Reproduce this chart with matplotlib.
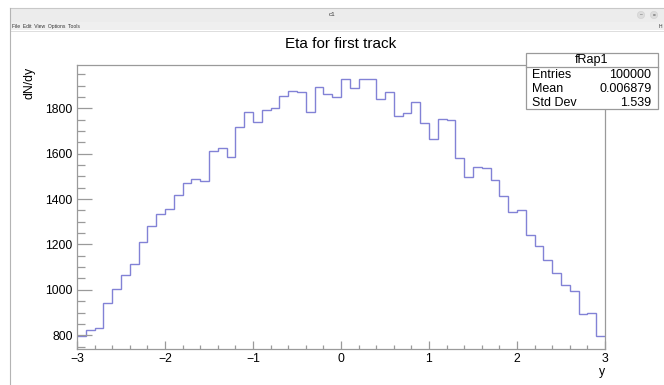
import numpy as np
import matplotlib
matplotlib.use('Agg')
import matplotlib.pyplot as plt
from matplotlib.ticker import MultipleLocator
from matplotlib.patches import Rectangle, Circle

plt.rcParams['font.family'] = ['Liberation Sans', 'DejaVu Sans']

# histogram fRap1: 60 bins in [-3, 3]
x_low, x_high, n_bins = -3.0, 3.0, 60
counts = [797, 822, 831, 942, 1003, 1064, 1113, 1210, 1280, 1332,
          1355, 1417, 1471, 1488, 1480, 1610, 1624, 1587, 1716, 1782,
          1738, 1791, 1800, 1853, 1875, 1870, 1782, 1892, 1862, 1848,
          1928, 1888, 1928, 1928, 1840, 1870, 1766, 1781, 1826, 1734,
          1663, 1754, 1747, 1582, 1499, 1543, 1536, 1484, 1412, 1342,
          1351, 1240, 1192, 1130, 1076, 1020, 994, 892, 898, 796]
title = 'Eta for first track'
x_title = 'y'
y_title = 'dN/dy'
stat_name = 'fRap1'
stat_labels = ['Entries', 'Mean', 'Std Dev']
stat_values = ['100000', '0.006879', '1.539']
y_range = (738, 1989)

W, H = 664, 385
fig = plt.figure(figsize=(W / 100, H / 100), dpi=100)
fig.patch.set_facecolor('white')

def fx(px):
  return px / W

def fy(py):
  return 1 - py / H

# main frame
ax = fig.add_axes([fx(77), fy(349.3), fx(605) - fx(77), fy(65.3) - fy(349.3)])
edges = np.linspace(x_low, x_high, n_bins + 1)
ax.stairs(counts, edges, color='#8282d6', lw=1.0, baseline=None)
ax.set_xlim(x_low, x_high)
ax.set_ylim(*y_range)

frame_col = '#9a9a9a'
for s in ax.spines.values():
  s.set_color(frame_col)
  s.set_linewidth(0.9)
ax.xaxis.set_major_locator(MultipleLocator(1))
ax.xaxis.set_minor_locator(MultipleLocator(0.2))
ax.yaxis.set_major_locator(MultipleLocator(200))
ax.yaxis.set_minor_locator(MultipleLocator(50))
ax.tick_params(axis='both', which='both', direction='in', color=frame_col,
               labelsize=8.8, labelcolor='black', width=0.9)
ax.tick_params(axis='x', which='major', length=5.8, pad=3)
ax.tick_params(axis='x', which='minor', length=2.9)
ax.tick_params(axis='y', which='major', length=10.8, pad=3)
ax.tick_params(axis='y', which='minor', length=5.8)

# axis titles (ROOT style, at the end of the axes)
fig.text(fx(605), fy(372), x_title, ha='right', va='center', fontsize=8.8)
fig.text(fx(30), fy(67), y_title, ha='center', va='top', rotation=90, fontsize=8.8)

# histogram title
fig.text(fx(341), fy(48.5), title, ha='center', va='baseline', fontsize=11)

# overlay in pixel coordinates for window chrome and stats box
ov = fig.add_axes([0, 0, 1, 1], zorder=5)
ov.set_xlim(0, W)
ov.set_ylim(H, 0)
ov.axis('off')
ov.patch.set_alpha(0)

# window chrome
ov.add_patch(Rectangle((10, 8), W - 10, 14, facecolor='#ececec', edgecolor='none'))
ov.add_patch(Rectangle((10, 22), W - 10, 8, facecolor='#efefef', edgecolor='none'))
ov.plot([10, W], [8, 8], color='#c8c8c8', lw=0.8)
ov.plot([10, W], [30.5, 30.5], color='#d8d8d8', lw=0.6)
ov.plot([10, 10], [8, H], color='#b4b4b4', lw=0.8)
ov.text(332, 15, 'c1', ha='center', va='center', fontsize=4.5, color='#333333')
ov.text(12, 26.5, 'File  Edit  View  Options  Tools', ha='left', va='center',
        fontsize=3.6, color='#333333')
ov.text(662.5, 26.5, 'H', ha='right', va='center', fontsize=3.6, color='#333333')
for cx in (641, 654):
  ov.add_patch(Circle((cx, 15), 3.6, facecolor='#dcdcdc', edgecolor='#cfcfcf', lw=0.4))
ov.text(641, 15, '–', ha='center', va='center', fontsize=3.5, color='#555555')
ov.text(654, 15, '▫', ha='center', va='center', fontsize=3.0, color='#555555', family='DejaVu Sans')

# stats box
bx0, by0, bx1, by1 = 526, 53.3, 658, 109.3
ov.add_patch(Rectangle((bx0, by0), bx1 - bx0, by1 - by0, facecolor='white',
                       edgecolor=frame_col, lw=0.9))
ov.plot([bx0, bx1], [66.7, 66.7], color=frame_col, lw=0.9)
ov.text((bx0 + bx1) / 2, 60.2, stat_name, ha='center', va='center', fontsize=9)
row_y = [74.5, 89.0, 103.0]
for lab, val, ry in zip(stat_labels, stat_values, row_y):
  ov.text(532, ry, lab, ha='left', va='center', fontsize=9)
  ov.text(651.5, ry, val, ha='right', va='center', fontsize=9)

fig.savefig('out.png', dpi=100)
